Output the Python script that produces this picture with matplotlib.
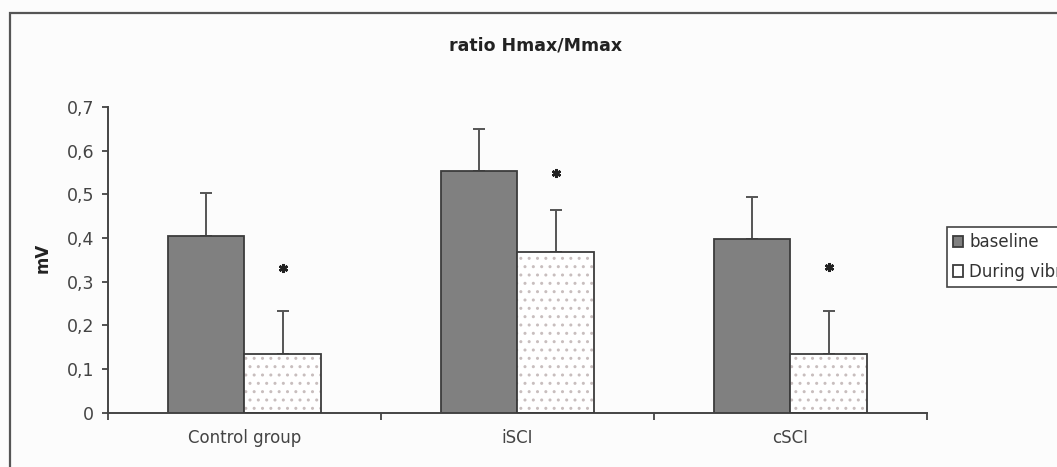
import matplotlib
matplotlib.use("Agg")
import matplotlib.pyplot as plt
import numpy as np
from matplotlib.patches import Rectangle
from matplotlib.ticker import FuncFormatter

# data
groups = ["Control group", "iSCI", "cSCI"]
baseline = [0.404, 0.553, 0.397]
baseline_err = [0.099, 0.097, 0.097]
during = [0.134, 0.367, 0.134]
during_err = [0.100, 0.098, 0.100]
star_y = [0.332, 0.55, 0.334]  # significance marks
yticks = [0, 0.1, 0.2, 0.3, 0.4, 0.5, 0.6, 0.7]
series_names = ["baseline", "During vibration"]

plt.rcParams["font.family"] = "DejaVu Sans"

fig = plt.figure(figsize=(10.57, 4.67), dpi=100)
fig.patch.set_facecolor("#fcfcfc")
ax = fig.add_axes([108 / 1057, 1 - 412.7 / 467, (927 - 108) / 1057, (412.7 - 107) / 467])
ax.set_facecolor("#fcfcfc")

dark = "#3c3c3c"
x = np.arange(len(groups)) + 0.5
w = 0.282

b1 = ax.bar(x - w / 2, baseline, w, color="#808080", edgecolor=dark, linewidth=1.3,
            label=series_names[0], zorder=2)
# dotted bars: hatch first in light grey, then the dark outline on top
ax.bar(x + w / 2, during, w, color="white", edgecolor="#c8bebe", hatch="..",
       linewidth=0, zorder=2)
b2 = ax.bar(x + w / 2, during, w, fill=False, edgecolor=dark, linewidth=1.3,
            label=series_names[1], zorder=3)

ax.errorbar(x - w / 2, baseline, yerr=[np.zeros(3), baseline_err], fmt="none",
            ecolor="#555555", elinewidth=1.4, capsize=4.3, capthick=1.4, zorder=1)
ax.errorbar(x + w / 2, during, yerr=[np.zeros(3), during_err], fmt="none",
            ecolor="#555555", elinewidth=1.4, capsize=4.3, capthick=1.4, zorder=1)
ax.plot(x + w / 2, star_y, linestyle="none", marker=(6, 2, 0), markersize=6.5,
        markeredgewidth=1.8, color="#222222", zorder=4)

ax.set_xlim(0, 3)
ax.set_ylim(0, 0.7)
ax.set_yticks(yticks)
ax.yaxis.set_major_formatter(FuncFormatter(lambda v, p: f"{v:.1f}".replace(".", ",") if v else "0"))
ax.set_xticks([0, 1, 2, 3])
ax.set_xticklabels([])
ax.set_xticks(x, minor=True)
ax.set_xticklabels(groups, minor=True)

for s in ["top", "right"]:
    ax.spines[s].set_visible(False)
for s in ["left", "bottom"]:
    ax.spines[s].set_color("#444444")
    ax.spines[s].set_linewidth(1.4)

ax.tick_params(axis="y", length=4, width=1.3, color="#444444", pad=6,
               labelsize=12.5, labelcolor="#444444")
ax.tick_params(axis="x", which="major", length=5, width=1.3, color="#444444")
ax.tick_params(axis="x", which="minor", length=0, pad=12,
               labelsize=12, labelcolor="#444444")

fig.text(536 / 1057, 1 - 45 / 467, "ratio Hmax/Mmax", ha="center", va="center",
         fontsize=12.5, fontweight="bold", color="#222222")
fig.text(43 / 1057, 1 - 258 / 467, "mV", ha="center", va="center", rotation=90,
         fontsize=12, fontweight="bold", color="#222222")

# legend runs off the right edge, as in the reference
leg = fig.legend(handles=[b1, b2], loc="upper left",
                 bbox_to_anchor=(946.7 / 1057, 1 - 227.3 / 467),
                 fontsize=12, frameon=True, fancybox=False, edgecolor="#444444",
                 framealpha=1, borderaxespad=0, borderpad=0.35,
                 handlelength=0.65, handleheight=0.65, handletextpad=0.35,
                 labelspacing=0.7)
leg.get_frame().set_linewidth(1.2)
for t in leg.get_texts():
    t.set_color("#333333")

# outer chart-area frame, cut off at the right and bottom like the scan
fig.patches.append(Rectangle((10 / 1057, -0.2), 1.2, 1.2 - 13 / 467,
                             transform=fig.transFigure, fill=False,
                             edgecolor="#555555", linewidth=1.6))

fig.savefig("out.png", dpi=100, facecolor=fig.get_facecolor())
